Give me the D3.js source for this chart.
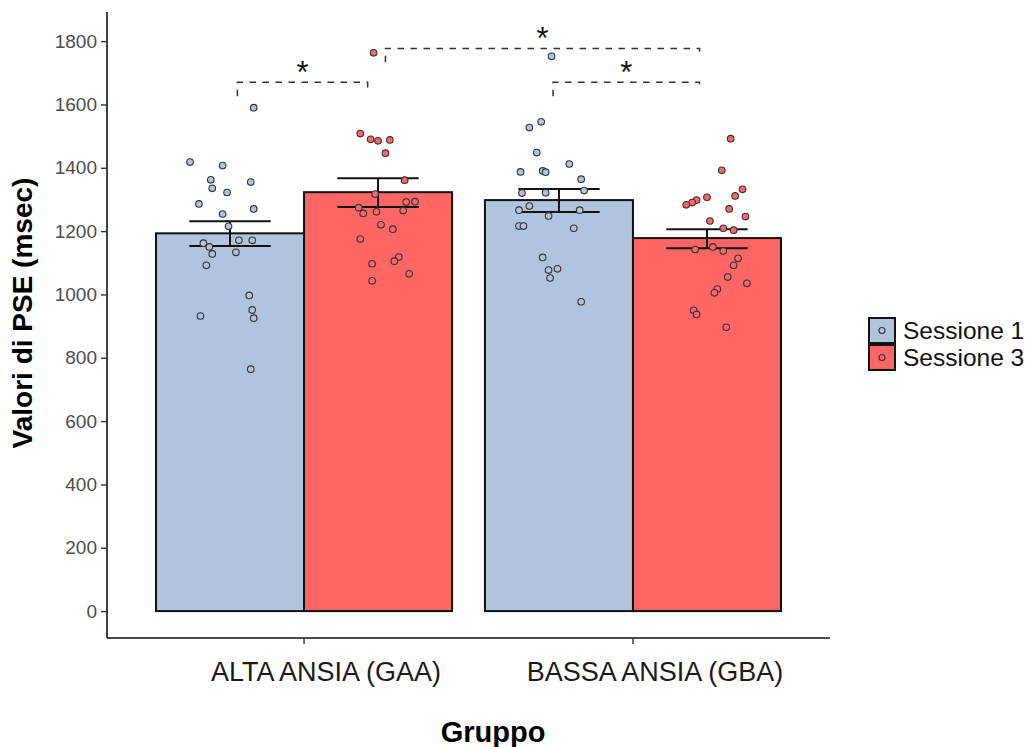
<!DOCTYPE html>
<html lang="it">
<head>
<meta charset="UTF-8">
<title>PSE</title>
<script src="https://cdn.jsdelivr.net/npm/d3@7"></script>
<style>
    body { margin: 0; background: #fff; }
    text { font-family: "Liberation Sans", Arial, sans-serif; }
</style>
</head>
<body>
<div id="chart"></div>
<script>
    var width = 1036;
    var height = 747;

    // categorie e sessioni
    var groups = ["ALTA ANSIA (GAA)", "BASSA ANSIA (GBA)"];
    var sessions = ["Sessione 1", "Sessione 3"];
    var colors = ["#b0c4de", "#ff6666"];

    // medie ed errore standard (per gruppo, per sessione)
    var means = [[1193, 1323], [1298, 1178]];
    var errLow = [[1153, 1276], [1260, 1146]];
    var errHigh = [[1231, 1367], [1333, 1206]];

    var yTicks = [0, 200, 400, 600, 800, 1000, 1200, 1400, 1600, 1800];

    // punti individuali + jitter orizzontale (frazione della barra)
    var gaaS1 = [1590, 1418, 1407, 1362, 1335, 1322, 1355, 1286, 1270, 1254, 1215, 1162,
                 1150, 1128, 1171, 1171, 1133, 1092, 997, 932, 951, 925, 764];
    var gaaS1Jit = [0.16, -0.27, -0.05, -0.13, -0.12, -0.02, 0.14, -0.21, 0.16, -0.05, -0.01, -0.18,
                    -0.14, -0.12, 0.06, 0.15, 0.04, -0.16, 0.13, -0.20, 0.15, 0.16, 0.14];
    var gaaS3 = [1763, 1508, 1490, 1485, 1488, 1446, 1361, 1317, 1292, 1293, 1274, 1256,
                 1261, 1265, 1220, 1206, 1175, 1118, 1105, 1097, 1065, 1043];
    var gaaS3Jit = [-0.03, -0.12, -0.05, 0.00, 0.08, 0.05, 0.18, -0.02, 0.19, 0.25, -0.13, -0.10,
                    -0.01, 0.17, 0.02, 0.10, -0.12, 0.14, 0.11, -0.04, 0.21, -0.04];
    var gbaS1 = [1752, 1527, 1545, 1448, 1387, 1390, 1386, 1412, 1364, 1328, 1320, 1321,
                 1279, 1266, 1248, 1266, 1216, 1216, 1209, 1117, 1077, 1081, 1052, 977];
    var gbaS1Jit = [-0.05, -0.20, -0.12, -0.15, -0.26, -0.11, -0.09, 0.07, 0.15, 0.17, -0.25, -0.09,
                    -0.20, -0.27, -0.07, 0.14, -0.27, -0.24, 0.10, -0.11, -0.07, -0.01, -0.06, 0.15];
    var gbaS3 = [1492, 1392, 1332, 1311, 1307, 1298, 1290, 1283, 1270, 1246, 1232, 1209, 1203,
                 1142, 1150, 1137, 1114, 1092, 1055, 1035, 1017, 1005, 950, 937, 896];
    var gbaS3Jit = [0.16, 0.10, 0.24, 0.19, 0.00, -0.07, -0.10, -0.14, 0.15, 0.26, 0.02, 0.11, 0.18,
                    -0.08, 0.04, 0.11, 0.21, 0.18, 0.14, 0.27, 0.07, 0.05, -0.09, -0.07, 0.13];
    var pointValues = [[gaaS1, gaaS3], [gbaS1, gbaS3]];
    var pointJitter = [[gaaS1Jit, gaaS3Jit], [gbaS1Jit, gbaS3Jit]];

    // confronti significativi: [gruppo, sessione, spostamento], altezza
    var bracketFrom = [[0, 0, 0.05], [0, 1, 0.05], [1, 0, -0.04]];
    var bracketTo = [[0, 1, -0.07], [1, 1, -0.05], [1, 1, -0.05]];
    var bracketY = [1670, 1777, 1670];
    var bracketTip = [44, 19];
    var bracketLabel = ["*", "*", "*"];

    var svg = d3.select("#chart")
        .append("svg")
        .attr("width", width)
        .attr("height", height);

    var plot = {left: 107, right: 830, top: 12, bottom: 638};

    var x0 = d3.scaleBand()
        .domain(groups)
        .range([plot.left, plot.right])
        .paddingInner(0.1)
        .paddingOuter(0.149);
    var x1 = d3.scaleBand()
        .domain(sessions)
        .range([0, x0.bandwidth()]);
    var jit = d3.scaleLinear()
        .domain([-0.5, 0.5])
        .range([0, x1.bandwidth()]);
    var y = d3.scaleLinear()
        .domain([-85, 1892])
        .range([plot.bottom, plot.top]);

    function barX(g, s) { return x0(groups[g]) + x1(sessions[s]); }
    function barC(g, s) { return barX(g, s) + x1.bandwidth() / 2; }

    // barre
    var bars = [];
    groups.forEach(function (g, gi) {
        sessions.forEach(function (s, si) {
            bars.push({g: gi, s: si});
        });
    });
    svg.append("g").selectAll("rect")
        .data(bars)
        .enter()
        .append("rect")
        .attr("x", function (d) { return barX(d.g, d.s); })
        .attr("y", function (d) { return y(means[d.g][d.s]); })
        .attr("width", x1.bandwidth())
        .attr("height", function (d) { return y(0) - y(means[d.g][d.s]); })
        .attr("fill", function (d) { return colors[d.s]; })
        .attr("stroke", "#111")
        .attr("stroke-width", 2);

    // barre di errore
    var ew = x1.bandwidth() * 0.55;
    var eb = svg.append("g").attr("stroke", "#111").attr("stroke-width", 2);
    bars.forEach(function (d) {
        var c = barC(d.g, d.s);
        var lo = y(errLow[d.g][d.s]), hi = y(errHigh[d.g][d.s]);
        eb.append("line").attr("x1", c).attr("x2", c).attr("y1", lo).attr("y2", hi);
        eb.append("line").attr("x1", c - ew / 2).attr("x2", c + ew / 2).attr("y1", lo).attr("y2", lo);
        eb.append("line").attr("x1", c - ew / 2).attr("x2", c + ew / 2).attr("y1", hi).attr("y2", hi);
    });

    // punti
    var pts = [];
    bars.forEach(function (d) {
        pointValues[d.g][d.s].forEach(function (v, i) {
            pts.push({g: d.g, s: d.s, v: v, j: pointJitter[d.g][d.s][i]});
        });
    });
    svg.append("g").selectAll("circle")
        .data(pts)
        .enter()
        .append("circle")
        .attr("cx", function (d) { return barX(d.g, d.s) + jit(d.j); })
        .attr("cy", function (d) { return y(d.v); })
        .attr("r", 3.3)
        .attr("fill", function (d) { return colors[d.s]; })
        .attr("stroke", "#333")
        .attr("stroke-width", 1.1);

    // parentesi di significatività
    var br = svg.append("g");
    bracketY.forEach(function (v, i) {
        var f = bracketFrom[i], t = bracketTo[i];
        var xa = barC(f[0], f[1]) + f[2] * x1.bandwidth();
        var xb = barC(t[0], t[1]) + t[2] * x1.bandwidth();
        var path = d3.path();
        path.moveTo(xa, y(v - bracketTip[0]));
        path.lineTo(xa, y(v));
        path.lineTo(xb, y(v));
        path.lineTo(xb, y(v - bracketTip[1]));
        br.append("path")
            .attr("d", path.toString())
            .attr("fill", "none")
            .attr("stroke", "#333")
            .attr("stroke-width", 1.5)
            .attr("stroke-dasharray", "6.5,6.5");
        br.append("text")
            .attr("x", (xa + xb) / 2)
            .attr("y", y(v) + 1)
            .attr("text-anchor", "middle")
            .attr("font-size", 31)
            .attr("fill", "#111")
            .text(bracketLabel[i]);
    });

    // assi
    var yAxis = d3.axisLeft(y).tickValues(yTicks).tickFormat(d3.format("d")).tickSize(6).tickPadding(4);
    var gy = svg.append("g")
        .attr("transform", "translate(" + plot.left + ",0)")
        .call(yAxis);
    gy.select(".domain").attr("d", "M0," + plot.top + "V" + plot.bottom).attr("stroke", "#111").attr("stroke-width", 1.6);
    gy.selectAll(".tick line").attr("stroke", "#333").attr("stroke-width", 1.4);
    gy.selectAll(".tick text")
        .attr("font-size", 19)
        .attr("font-family", "Liberation Sans, Arial, sans-serif")
        .attr("fill", "#4d4d4d");

    var xAxis = d3.axisBottom(x0).tickSize(6).tickSizeOuter(0).tickPadding(14);
    var gx = svg.append("g")
        .attr("transform", "translate(0," + plot.bottom + ")")
        .call(xAxis);
    gx.select(".domain").attr("d", "M" + plot.left + ",0H" + plot.right).attr("stroke", "#111").attr("stroke-width", 1.6);
    gx.selectAll(".tick line").attr("stroke", "#333").attr("stroke-width", 1.4);
    gx.selectAll(".tick text")
        .attr("font-size", 27)
        .attr("font-family", "Liberation Sans, Arial, sans-serif")
        .attr("fill", "#1a1a1a")
        .attr("dx", 22)
        .attr("dy", "0.85em");

    // titoli
    svg.append("text")
        .attr("transform", "translate(32,313) rotate(-90)")
        .attr("text-anchor", "middle")
        .attr("font-size", 28)
        .attr("font-weight", "bold")
        .attr("fill", "#000")
        .text("Valori di PSE (msec)");
    svg.append("text")
        .attr("x", 493)
        .attr("y", 742)
        .attr("text-anchor", "middle")
        .attr("font-size", 29)
        .attr("font-weight", "bold")
        .attr("fill", "#000")
        .text("Gruppo");

    // legenda
    var lg = svg.append("g").attr("transform", "translate(869,318)");
    sessions.forEach(function (s, i) {
        var row = lg.append("g").attr("transform", "translate(0," + (i * 27) + ")");
        row.append("rect")
            .attr("x", 0).attr("y", 0)
            .attr("width", 26).attr("height", 25)
            .attr("fill", colors[i])
            .attr("stroke", "#111")
            .attr("stroke-width", 2);
        row.append("circle")
            .attr("cx", 13).attr("cy", 12.5).attr("r", 3)
            .attr("fill", colors[i])
            .attr("stroke", "#333")
            .attr("stroke-width", 1.1);
        row.append("text")
            .attr("x", 34).attr("y", 21)
            .attr("font-size", 24.5)
            .attr("fill", "#111")
            .text(s);
    });
</script>
</body>
</html>
